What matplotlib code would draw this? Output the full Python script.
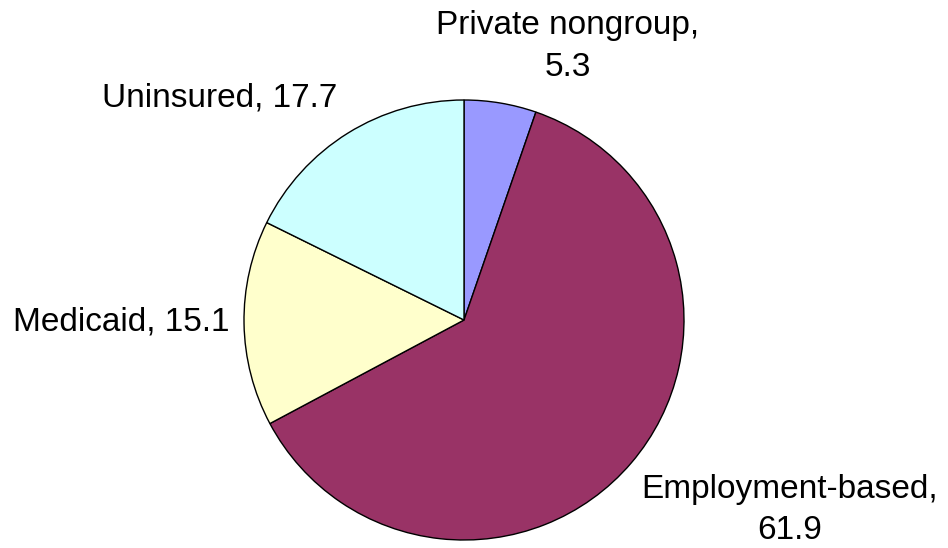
import matplotlib.pyplot as plt

# Datos del gráfico (porcentajes)
categories = ['Private nongroup', 'Employment-based', 'Medicaid', 'Uninsured']
values = [5.3, 61.9, 15.1, 17.7]
colors = ['#9999FF', '#993366', '#FFFFCC', '#CCFFFF']

plt.rcParams['font.family'] = ['Liberation Sans', 'DejaVu Sans']

fig = plt.figure(figsize=(9.48, 5.48), dpi=100)
ax = fig.add_axes([0, 0, 1, 1])

ax.pie(values, colors=colors, startangle=90, counterclock=False,
       radius=1.0, center=(0, 0),
       wedgeprops=dict(edgecolor='black', linewidth=1.0))

# posiciones de etiquetas (unidades del pie, radio = 1)
label_pos = [(0.473, 1.245), (1.48, -0.864), (-1.557, -0.01), (-1.109, 1.009)]
label_text = ['Private nongroup,\n5.3', 'Employment-based,\n61.9',
              'Medicaid, 15.1', 'Uninsured, 17.7']
for (x, y), txt in zip(label_pos, label_text):
    ax.text(x, y, txt, ha='center', va='center', fontsize=24,
            linespacing=1.45)

scale = 220.0
ax.set_xlim(-464 / scale, (948 - 464) / scale)
ax.set_ylim(-(548 - 320) / scale, 320 / scale)
ax.set_aspect('equal')
ax.axis('off')

fig.savefig('out.png', dpi=100)
